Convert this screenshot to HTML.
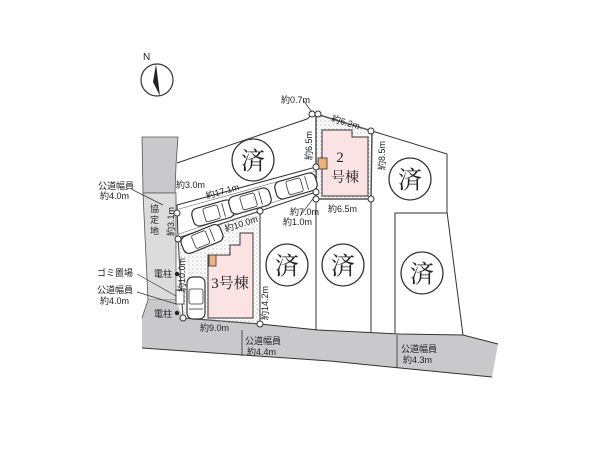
<!DOCTYPE html>
<html><head><meta charset="utf-8"><style>
html,body{margin:0;padding:0;background:#fff;width:600px;height:450px;overflow:hidden}
svg text{font-family:"Liberation Sans","Noto Sans CJK JP",sans-serif;fill:#222}
.s{font-family:"Liberation Serif","Noto Serif CJK SC",serif !important}
</style></head><body>
<svg width="600" height="450" viewBox="0 0 600 450" xmlns="http://www.w3.org/2000/svg">
<defs>
<pattern id="dot" width="4" height="4" patternUnits="userSpaceOnUse"><rect width="4" height="4" fill="#fff"/><circle cx="1" cy="1" r="0.6" fill="#999"/><circle cx="3" cy="3" r="0.5" fill="#bbb"/></pattern>
<g id="car"><rect x="-21" y="-9" width="42" height="18" rx="6" fill="#fff" stroke="#333" stroke-width="1.2"/><rect x="-9" y="-7" width="15" height="14" rx="2" fill="none" stroke="#333" stroke-width="0.8"/><line x1="11" y1="-7" x2="11" y2="7" stroke="#333" stroke-width="0.8"/></g>
</defs>
<circle cx="157" cy="80" r="16" fill="none" stroke="#333" stroke-width="1.2"/>
<polygon points="156,64 160,96 153,82" fill="#222"/>
<text x="143" y="60" font-size="10">N</text>
<polygon points="142,137 178,137 176,165 175,193 143,193" fill="#c9c9cb" stroke="#555" stroke-width="0.8"/>
<polygon points="143,193 176,193 176,300 148,300" fill="#dcdcdd" stroke="#555" stroke-width="0.8"/>
<polygon points="142,318 148,300 176,300 183,318 260,324 318,330 400,334 463,335 498,344 492,377 400,368 330,361 142,348" fill="#c9c9cb"/>
<polyline points="142,318 148,300" fill="none" stroke="#555" stroke-width="0.8"/>
<polyline points="183,318 260,324 318,330 400,334 463,335 498,344" fill="none" stroke="#333" stroke-width="1"/>
<polyline points="142,348 330,361 400,368 492,377" fill="none" stroke="#333" stroke-width="1"/>
<line x1="242" y1="330" x2="242" y2="356" stroke="#333" stroke-width="0.8"/>
<line x1="397" y1="335" x2="397" y2="368" stroke="#333" stroke-width="0.8"/>
<polyline points="177,163 307,119 313,114" fill="none" stroke="#333" stroke-width="1"/>
<polyline points="372,131 447,154 447,212 463,335" fill="none" stroke="#333" stroke-width="1"/>
<polyline points="395,333 395,213 447,213" fill="none" stroke="#333" stroke-width="1"/>
<line x1="316" y1="199" x2="316" y2="330" stroke="#333" stroke-width="1"/>
<line x1="371" y1="199" x2="371" y2="332" stroke="#333" stroke-width="1"/>
<polygon points="316,114 372,131 371,199 316,199" fill="url(#dot)" stroke="#555" stroke-width="1.5"/>
<polygon points="322,130 352,130 352,137 368,137 368,196 322,196" fill="#fbe3e3" stroke="#333" stroke-width="1"/>
<rect x="318" y="158" width="9" height="11" fill="#f0b27a" stroke="#333" stroke-width="0.8"/>
<text class="s" x="340" y="162" font-size="15" text-anchor="middle">2</text>
<text class="s" x="345" y="182" font-size="14" text-anchor="middle">号棟</text>
<polygon points="177,205 316,167 316,192 260,211 178,238" fill="#fff" stroke="#333" stroke-width="1"/>
<line x1="179" y1="209" x2="316" y2="171" stroke="#666" stroke-width="0.6"/>
<line x1="179" y1="234" x2="316" y2="188" stroke="#666" stroke-width="0.6"/>
<g transform="translate(213,213) rotate(-16)"><use href="#car"/></g>
<g transform="translate(250,201) rotate(-16)"><use href="#car"/></g>
<g transform="translate(296,186) rotate(-16)"><use href="#car"/></g>
<polygon points="178,238 260,211 260,324 183,318" fill="url(#dot)" stroke="#555" stroke-width="1.2"/>
<polygon points="208,255 230,255 230,245 240,245 240,233 253,233 253,318 208,318" fill="#fbe3e3" stroke="#333" stroke-width="1"/>
<rect x="209" y="255" width="7" height="11" fill="#f0b27a" stroke="#333" stroke-width="0.8"/>
<g transform="translate(202,239) rotate(-22)"><use href="#car"/></g>
<g transform="translate(196,298) rotate(90)"><use href="#car"/></g>
<rect x="176" y="290" width="8" height="14" fill="#fff" stroke="#333" stroke-width="0.8"/>
<text class="s" x="230" y="288" font-size="15" text-anchor="middle">3号棟</text>
<g fill="#fff" stroke="#333" stroke-width="1">
<circle cx="177" cy="213" r="3"/><circle cx="178" cy="239" r="3"/><circle cx="183" cy="318" r="3"/><circle cx="260" cy="324" r="3"/><circle cx="260" cy="211" r="3"/>
<circle cx="312" cy="114" r="3"/><circle cx="318" cy="114" r="3"/><circle cx="371" cy="131" r="3"/><circle cx="371" cy="199" r="3"/>
<circle cx="316" cy="167" r="3"/><circle cx="316" cy="192" r="3"/><circle cx="316" cy="199" r="3"/>
</g>
<circle cx="177" cy="274" r="2.2" fill="#222"/><circle cx="177" cy="313" r="2.2" fill="#222"/>
<g fill="#fff" stroke="#333" stroke-width="1.3">
<circle cx="253" cy="160" r="21"/><circle cx="287" cy="265" r="21"/><circle cx="343" cy="265" r="21"/><circle cx="410" cy="179" r="21"/><circle cx="422" cy="273" r="21"/>
</g>
<g font-size="24" text-anchor="middle">
<text class="s" x="253" y="169">済</text><text class="s" x="287" y="274">済</text><text class="s" x="343" y="274">済</text><text class="s" x="410" y="188">済</text><text class="s" x="422" y="282">済</text>
</g>
<g stroke="#333" stroke-width="0.7" fill="none">
<line x1="133" y1="190" x2="163" y2="205"/>
<line x1="137" y1="274" x2="176" y2="296"/>
<line x1="137" y1="292" x2="176" y2="304"/>
<line x1="303" y1="100" x2="312" y2="112"/>
<line x1="300" y1="216" x2="315" y2="196"/>
</g>
<g font-size="9">
<text x="281" y="103">約0.7m</text>
<text x="331" y="121" transform="rotate(17 331 121)">約6.2m</text>
<text x="312" y="160" transform="rotate(-90 312 160)">約6.5m</text>
<text x="385" y="170" transform="rotate(-90 385 170)">約8.5m</text>
<text x="328" y="212">約6.5m</text>
<text x="290" y="215">約7.0m</text>
<text x="283" y="225">約1.0m</text>
<text x="176" y="188">約3.0m</text>
<text x="207" y="199" transform="rotate(-16 207 199)">約17.1m</text>
<text x="226" y="232" transform="rotate(-18 226 232)">約10.0m</text>
<text x="98" y="189">公道幅員</text>
<text x="100" y="199">約4.0m</text>
<text x="150" y="212">協</text><text x="150" y="223">定</text><text x="150" y="234">地</text>
<text x="174" y="236" transform="rotate(-90 174 236)">約3.1m</text>
<text x="185" y="292" transform="rotate(-90 185 292)">約10.0m</text>
<text x="154" y="277">電柱</text>
<text x="154" y="317">電柱</text>
<text x="97" y="276">ゴミ置場</text>
<text x="97" y="293">公道幅員</text>
<text x="100" y="304">約4.0m</text>
<text x="268" y="320" transform="rotate(-90 268 320)">約14.2m</text>
<text x="200" y="331">約9.0m</text>
<text x="245" y="344">公道幅員</text>
<text x="247" y="355">約4.4m</text>
<text x="401" y="352">公道幅員</text>
<text x="403" y="363">約4.3m</text>
</g>
</svg>
</body></html>
